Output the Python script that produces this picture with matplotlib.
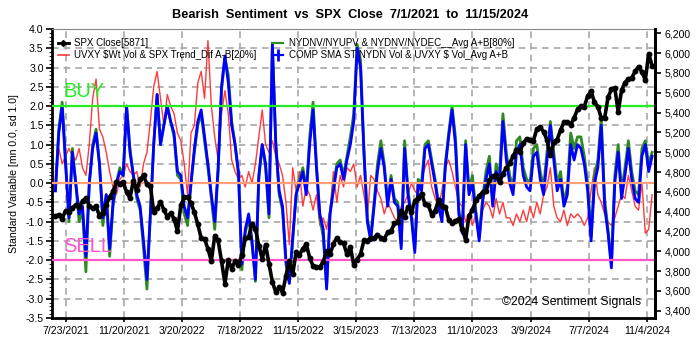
import matplotlib
matplotlib.use("Agg")
import matplotlib.pyplot as plt
from matplotlib.ticker import FuncFormatter, MultipleLocator
from matplotlib.lines import Line2D
import pandas as pd
import numpy as np

plt.rcParams['font.family'] = ['Liberation Sans', 'DejaVu Sans']

# ---------------- data (weekly samples, Fridays) ----------------
start_date = "2021-07-02"
n_weeks = 177

spx_close = [
    4352, 4370, 4327, 4411, 4395, 4437, 4468, 4442, 4509, 4535, 4458, 4433, 4455,
    4357, 4391, 4471, 4545, 4605, 4697, 4682, 4698, 4595, 4538, 4712, 4620, 4725, 4766,
    4677, 4662, 4398, 4432, 4500, 4418, 4349, 4385, 4329, 4204, 4463, 4543,
    4546, 4488, 4392, 4272, 4132, 4123, 4024, 3901, 4158, 4109, 3901, 3675, 3912,
    3825, 3899, 3863, 3962, 4130, 4145, 4280, 4228, 4058, 3924, 4067, 3873, 3693, 3586,
    3640, 3583, 3753, 3901, 3771, 3993, 3965, 4026, 4072, 3934, 3852, 3845, 3840,
    3895, 3999, 3973, 4071, 4136, 4090, 4079, 3970, 4046, 3862, 3917, 3971, 4109,
    4105, 4138, 4133, 4169, 4136, 4124, 4192, 4205, 4282, 4299, 4410, 4348, 4450,
    4399, 4505, 4536, 4582, 4478, 4464, 4370, 4406, 4516, 4457, 4450, 4320, 4288,
    4309, 4327, 4224, 4117, 4358, 4415, 4514, 4559, 4595, 4604, 4719, 4755, 4770,
    4697, 4784, 4840, 4891, 4959, 5027, 5006, 5089, 5137, 5124, 5117, 5234, 5254,
    5204, 5123, 4967, 5100, 5128, 5223, 5303, 5305, 5278, 5347, 5432, 5465, 5460,
    5567, 5615, 5505, 5459, 5346, 5344, 5554, 5634, 5648, 5408, 5626, 5703, 5738,
    5751, 5815, 5864, 5808, 5729, 5995, 5871,
]

uvxy_trend = [
    0.3, 0.9, 0.5, 0.7, 0.9, 0.7, 0.6, 0.9, 0.4, 0.2, 1.0, 2.2, 2.7, 1.4, 1.2, 0.8,
    0.3, -0.1, -0.3, 0.1, 0.2, 0.5, 0.3, 0.2, 0.3, -0.1, 0.5, 0.8, 1.6, 2.5, 2.9,
    2.2, 1.5, 2.3, 2.0, 1.8, 1.3, 1.1, 0.5, -0.3, 1.3, 1.5, 2.6, 2.9, 2.2, 3.7,
    2.0, 1.2, 0.6, 1.8, 2.4, 1.8, 0.6, 0.3, 0.1, 0.2, -0.1, 0.3, 0.0, 0.5, 1.2,
    1.9, 1.0, 0.8, 1.1, 0.7, 0.5, 0.2, -0.5, -1.6, 0.4, -0.2, 0.3, -0.6, -0.1,
    -0.3, -0.7, -0.3, -1.1, -0.9, -1.2, -0.7, 0.3, -0.5, 0.2, -0.1, 0.4, 0.3, 0.5,
    -0.1, 0.2, -0.3, -0.9, 0.2, 0.1, -0.2, -0.4, -0.8, -0.5, -0.7, -0.9, -1.0,
    -0.6, -0.5, -0.3, 0.0, -0.2, -0.3, 0.1, 0.4, 0.6, -0.1, -0.4, -0.6, -0.2,
    0.4, 0.6, 0.3, -0.1, -0.5, -0.6, -1.0, -0.8, -1.1, -0.8, -1.2, -0.7, -0.5,
    -0.6, -0.9, -0.4, -0.8, -0.5, -0.9, -0.9, -1.1, -0.8, -1.0, -0.7, -1.0, -0.6,
    -0.9, -0.5, -0.8, -0.3, -0.1, 0.4, -0.6, -0.9, -1.0, -0.7, -1.1, -0.8, -0.9,
    -0.8, -0.9, -1.1, -0.9, -0.2, 0.4, -0.3, -0.5, -0.8, -1.0, -1.1, -0.9, -0.6,
    -0.3, -0.4, 0.2, -0.2, -0.6, -0.7, 0.0, -1.3, -1.2, -0.3,
]

nydnv_avg = [
    -0.2, 1.4, 2.1, 0.6, -1.0, 0.9, 0.0, -1.0, -0.7, -2.3, 0.0, 1.0, 1.4, 0.5,
    -1.1, -0.3, -1.9, -0.6, 0.0, 0.4, 0.2, 2.0, 0.9, 0.2, -0.4, -0.7, -1.7, -2.75,
    -0.9, 1.0, 2.3, 1.0, 1.5, 2.0, 1.6, 1.2, 0.2, 0.1, -0.8, -1.1, 0.0, 0.8, 1.5,
    1.8, 1.1, 0.4, -0.4, -1.2, 0.3, 2.4, 3.25, 2.8, 1.6, 1.0, 0.2, -2.25, -1.3,
    -0.9, -1.6, -2.55, 0.1, 1.0, 0.4, -0.9, 3.6, 1.1, -0.3, -0.7, -2.1, -2.6,
    -1.5, -0.3, 0.1, 0.4, -0.2, 1.2, 2.1, 0.5, -0.9, -1.4, -2.65, -0.8, -0.1,
    0.5, 0.6, 0.2, 0.7, 1.2, 1.8, 3.6, 3.2, 0.9, -0.9, -1.4, -0.5, 0.5, 1.1, 0.5,
    -0.5, 0.2, -0.4, -0.5, -1.6, 1.1, -0.2, -0.8, -1.7, 0.1, 0.0, 1.0, 1.1, 0.6,
    0.1, -0.5, -0.9, 0.5, 1.3, 2.0, 1.2, -0.7, -1.2, 1.1, -0.2, 0.2, -0.7, -1.4,
    -0.4, 0.3, 0.7, -0.5, 0.5, 0.2, 1.8, 0.8, 0.2, -0.1, 1.1, 1.2, 0.4, 0.1, 0.0,
    0.9, 1.0, 0.3, -0.1, 0.8, 1.6, 0.8, 0.0, 0.3, -0.5, -0.1, 1.3, 0.9, 1.2, 1.2,
    0.7, 0.0, -1.4, 0.2, 0.6, 1.7, -0.4, -1.2, -2.1, 0.2, 1.0, -0.2, 0.4, 1.1,
    0.3, -0.2, -0.3, 0.9, 1.1, 0.5, 0.8,
]

comp_sma = [
    -0.2, 1.3, 2.0, 0.5, -0.9, 0.8, 0.0, -0.8, -0.6, -1.9, 0.0, 0.9, 1.3, 0.5,
    -0.9, -0.3, -1.7, -0.5, 0.0, 0.3, 0.2, 2.0, 0.8, 0.2, -0.3, -0.6, -1.5, -2.5,
    -0.8, 1.0, 2.3, 1.0, 1.5, 2.0, 1.6, 1.3, 0.3, 0.2, -0.6, -0.9, 0.0, 0.9, 1.6,
    1.9, 1.2, 0.5, -0.3, -1.0, 0.4, 2.5, 3.3, 2.6, 1.5, 1.0, 0.3, -2.1, -1.2,
    -0.8, -1.5, -2.5, 0.2, 1.0, 0.5, -0.8, 3.6, 1.0, -0.2, -0.6, -2.0, -2.6,
    -1.4, -0.3, 0.0, 0.3, -0.3, 1.0, 1.9, 0.4, -0.8, -1.2, -2.75, -0.8, -0.2,
    0.4, 0.5, 0.1, 0.6, 1.0, 1.6, 3.5, 3.0, 0.8, -1.0, -1.5, -0.6, 0.3, 0.9, 0.4,
    -0.6, 0.1, -0.5, -0.6, -1.7, 0.9, -0.3, -0.9, -1.8, 0.0, -0.2, 0.9, 1.0, 0.5,
    0.0, -0.6, -1.0, 0.4, 1.2, 1.9, 1.0, -0.8, -1.3, 1.0, -0.3, 0.0, -0.8, -1.5,
    -0.5, 0.1, 0.5, -0.6, 0.3, 0.0, 1.6, 0.6, 0.0, -0.3, 0.8, 1.0, 0.2, -0.1,
    -0.2, 0.7, 0.8, 0.1, -0.3, 0.6, 1.5, 0.6, -0.2, 0.1, -0.6, -0.3, 1.0, 0.6,
    1.0, 0.9, 0.5, -0.2, -1.5, 0.0, 0.4, 1.5, -0.6, -1.3, -2.2, 0.0, 0.8, -0.4,
    0.2, 0.9, 0.1, -0.4, -0.5, 0.7, 1.0, 0.3, 0.7,
]

xtick_dates = ["2021-07-23", "2021-11-20", "2022-03-20", "2022-07-18", "2022-11-15",
               "2023-03-15", "2023-07-13", "2023-11-10", "2024-03-09", "2024-07-07",
               "2024-11-04"]

labels = ["SPX Close[5871]",
          "UVXY $Wt Vol & SPX Trend_Dif A-B[20%]",
          "NYDNV/NYUPV & NYDNV/NYDEC__Avg A+B[80%]",
          "COMP SMA ST NYDN Vol & UVXY $ Vol_Avg A+B"]

# ---------------- figure ----------------
dates = pd.date_range(start_date, periods=n_weeks, freq="7D")

fig = plt.figure(figsize=(7.0, 3.38), dpi=100, facecolor="white")
ax = fig.add_axes([52/700, 1-318/338, (655-52)/700, (318-29)/338])
ax.set_facecolor("white")

grid_kw = dict(color="#A8A8A8", lw=1.2, ls=(0, (4, 3)), zorder=0)
for v in np.arange(-3.0, 4.0, 0.5):
    ax.axhline(v, **grid_kw)
xt = pd.to_datetime(xtick_dates)
for d in xt:
    ax.axvline(d, **grid_kw)

ax.plot(dates, uvxy_trend, color="#FF3B3B", lw=1.0, zorder=3)
ax.plot(dates, nydnv_avg, color="#2E8B22", lw=2.0, zorder=4)
ax.plot(dates, comp_sma, color="#0000FF", lw=2.0, zorder=5)

ax.axhline(2.0, color="#22EE22", lw=1.6, zorder=6)
ax.axhline(0.0, color="#FFA07A", lw=1.6, zorder=6)
ax.axhline(-2.0, color="#FF55CC", lw=1.6, zorder=6)

ax.set_ylim(-3.5, 4.0)
ax.set_xlim(pd.Timestamp("2021-06-25"), pd.Timestamp("2024-11-21"))
ax.yaxis.set_major_locator(MultipleLocator(0.5))
ax.yaxis.set_minor_locator(MultipleLocator(0.1))
ax.yaxis.set_major_formatter(FuncFormatter(lambda v, p: f"{v:.1f}"))
ax.set_xticks(xt)
ax.set_xticklabels([f"{d.month}/{d.day}/{d.year}" for d in xt])
ax.tick_params(axis="both", labelsize=7.6, colors="black", width=1.2)
ax.tick_params(axis="y", which="major", length=4, pad=2)
ax.tick_params(axis="y", which="minor", length=2)
ax.tick_params(axis="x", length=3, pad=3)
ax.set_ylabel("Standard Variable [mn 0.0, sd 1.0]", fontsize=7.6, labelpad=5)

for s in ["left", "bottom"]:
    ax.spines[s].set_linewidth(2.0)
ax.spines["top"].set_linewidth(0.8)
ax.spines["top"].set_color("#888888")
ax.spines["right"].set_linewidth(2.0)

ax2 = ax.twinx()
ax2.plot(dates, spx_close, color="black", lw=2.6, marker="o",
         markersize=3.2, zorder=7)
ax2.set_ylim(3327, 6243)
ax2.set_yticks(np.arange(3400, 6201, 200))
ax2.yaxis.set_major_formatter(FuncFormatter(lambda v, p: f"{int(v):,}"))
ax2.tick_params(axis="y", labelsize=7.6, length=4, width=1.2, pad=3)
ax2.spines["right"].set_linewidth(2.0)
for s in ["left", "bottom", "top"]:
    ax2.spines[s].set_visible(False)

ax.text(pd.Timestamp("2021-07-19"), 2.23, "BUY", color="#22EE22", fontsize=14.5,
        va="baseline", ha="left", zorder=8)
ax.text(pd.Timestamp("2021-07-19"), -1.79, "SELL", color="#FF55CC", fontsize=14.5,
        va="baseline", ha="left", zorder=8)
ax.text(0.977, 0.035, "\u00a92024 Sentiment Signals", transform=ax.transAxes,
        fontsize=8.8, ha="right", va="bottom", zorder=8)

h_spx = Line2D([], [], color="black", lw=2.0, marker="D", markersize=3)
h_red = Line2D([], [], color="#FF3B3B", lw=1.2)
h_green = Line2D([], [], color="#2E8B22", lw=1.6)
h_blue = Line2D([], [], color="#0000FF", lw=1.6, marker="|", markersize=8,
                markeredgewidth=2.0)
leg = ax2.legend([h_spx, h_red, h_green, h_blue], labels, ncol=2, loc="upper left",
                 bbox_to_anchor=(57/700, 1-37/338), bbox_transform=fig.transFigure,
                 frameon=False, fontsize=7.0, handlelength=1.1, handletextpad=0.6,
                 columnspacing=1.6, labelspacing=0.2, borderaxespad=0,
                 borderpad=0.1)
leg.set_zorder(20)

fig.text(0.5, 1-15/338, "Bearish  Sentiment  vs  SPX  Close  7/1/2021  to  11/15/2024",
         ha="center", va="center", fontsize=9.2, fontweight="bold")

fig.savefig("out.png", dpi=100, facecolor="white")
